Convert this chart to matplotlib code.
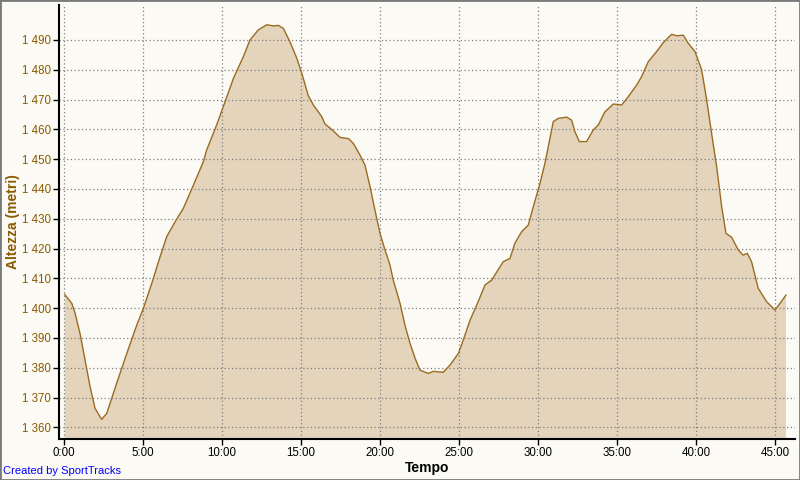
import matplotlib.pyplot as plt
from matplotlib.patches import Rectangle
from matplotlib.ticker import FuncFormatter

# tempo in minuti, altezza in metri
minuti = [0.04, 0.49, 0.70, 1.01, 1.33, 1.65, 1.96, 2.38, 2.70, 3.33, 3.97, 4.60,
          5.02, 5.55, 6.08, 6.50, 7.03, 7.55, 8.19, 8.82, 9.03, 9.66, 10.08, 10.72,
          11.35, 11.77, 12.30, 12.83, 13.25, 13.56, 13.88, 14.30, 14.73, 15.04, 15.46,
          15.78, 16.31, 16.52, 16.94, 17.47, 18.00, 18.31, 18.73, 19.05, 19.37, 19.68,
          20.00, 20.32, 20.63, 20.84, 21.27, 21.58, 21.90, 22.22, 22.53, 23.06, 23.37,
          24.00, 24.43, 24.96, 25.27, 25.70, 26.12, 26.65, 27.07, 27.49, 27.80, 28.23,
          28.54, 28.97, 29.39, 29.70, 30.13, 30.44, 30.97, 31.29, 31.82, 32.13, 32.34,
          32.62, 33.08, 33.50, 33.82, 34.24, 34.77, 35.30, 35.72, 36.25, 36.56, 36.98,
          37.51, 37.93, 38.46, 38.78, 39.20, 39.51, 39.94, 40.36, 40.68, 40.99, 41.31,
          41.63, 41.90, 42.26, 42.68, 42.99, 43.25, 43.52, 43.94, 44.47, 45.00, 45.32,
          45.70]
altezza = [1404.6, 1401.6, 1398.3, 1391.5, 1382.6, 1373.6, 1366.4, 1362.7, 1364.7,
           1374.8, 1384.8, 1394.3, 1399.9, 1408.3, 1417.3, 1424.0, 1429.0, 1433.5,
           1441.3, 1449.2, 1453.1, 1461.5, 1467.6, 1477.1, 1484.4, 1490.0, 1493.4,
           1495.1, 1494.7, 1494.9, 1493.9, 1489.4, 1483.9, 1479.0, 1471.3, 1468.2,
           1464.3, 1461.8, 1460.0, 1457.3, 1456.9, 1455.3, 1451.4, 1448.0, 1440.8,
           1432.9, 1425.1, 1419.5, 1414.5, 1409.4, 1401.6, 1394.3, 1388.2, 1383.2,
           1379.2, 1378.1, 1378.8, 1378.5, 1380.9, 1384.8, 1389.3, 1396.0, 1401.0,
           1407.8, 1409.4, 1413.0, 1415.6, 1416.7, 1421.8, 1425.7, 1427.9, 1434.0,
           1441.9, 1448.6, 1462.6, 1463.7, 1464.1, 1463.1, 1459.2, 1455.9, 1455.9,
           1459.8, 1461.5, 1465.9, 1468.5, 1468.2, 1471.0, 1474.9, 1477.7, 1482.7,
           1486.1, 1489.1, 1491.9, 1491.4, 1491.6, 1488.9, 1486.1, 1480.0, 1469.9,
           1458.7, 1447.5, 1434.0, 1425.1, 1423.8, 1419.5, 1417.8, 1418.4, 1415.6,
           1406.7, 1402.2, 1399.4, 1401.6, 1404.4]

x_ticks = [0, 5, 10, 15, 20, 25, 30, 35, 40, 45]
y_ticks = [1360, 1370, 1380, 1390, 1400, 1410, 1420, 1430, 1440, 1450, 1460, 1470, 1480, 1490]

bg = '#fbfaf5'
plt.rcParams['font.family'] = ['Liberation Sans', 'DejaVu Sans']

fig = plt.figure(figsize=(8, 4.8), dpi=100, facecolor=bg)
ax = fig.add_axes([0.07375, 0.0854, 0.92, 0.904])
ax.set_facecolor(bg)

ax.fill_between(minuti, altezza, 1300, color='#e3d4bb', linewidth=0, zorder=1)
ax.plot(minuti, altezza, color='#9c6b22', linewidth=1.0, zorder=3)

ax.set_xlim(-0.32, 46.27)
ax.set_ylim(1356.1, 1501.7)
ax.set_xticks(x_ticks)
ax.set_yticks(y_ticks)
ax.xaxis.set_major_formatter(FuncFormatter(lambda v, p: f'{int(v)}:00'))
ax.yaxis.set_major_formatter(FuncFormatter(lambda v, p: f'{int(v) // 1000} {int(v) % 1000:03d}'))

ax.set_axisbelow(False)
ax.grid(True, color='#808080', linestyle=(0, (1, 2)), linewidth=0.9)
for s in ['top', 'right']:
    ax.spines[s].set_visible(False)
for s in ['left', 'bottom']:
    ax.spines[s].set_linewidth(1.5)
    ax.spines[s].set_zorder(4)

ax.tick_params(axis='y', direction='out', length=4, width=1, labelsize=8.3,
               labelcolor='#8b5a00', pad=2)
ax.tick_params(axis='x', direction='out', length=4, width=1, labelsize=8.3,
               labelcolor='black', pad=2)

ax.set_ylabel('Altezza (metri)', fontsize=10, fontweight='bold', color='#8b5a00')
ax.yaxis.set_label_coords(-0.053, 0.5)
ax.set_xlabel('Tempo', fontsize=10, fontweight='bold', color='black', labelpad=1)

fig.text(0.004, 0.012, 'Created by SportTracks', fontsize=8, color='#0000ff')
fig.add_artist(Rectangle((0, 0), 1, 1, transform=fig.transFigure, fill=False,
                         edgecolor='#7a7a7a', linewidth=2))

fig.savefig('out.png', dpi=100, facecolor=bg)
